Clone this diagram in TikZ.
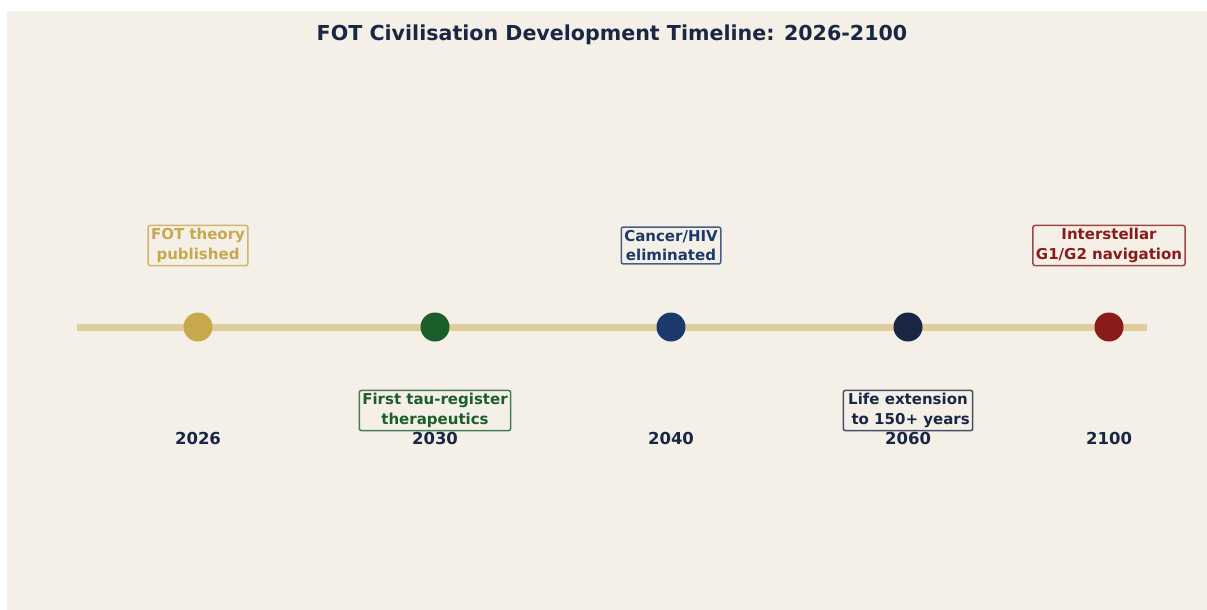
\documentclass[tikz,border=0pt]{standalone}
\usepackage{fontspec}
\setmainfont{DejaVu Sans}
\definecolor{fotBg}{HTML}{F4F0E8}
\definecolor{fotLine}{HTML}{E0CD9E}
\definecolor{fotGold}{HTML}{C9A84C}
\definecolor{fotGreen}{HTML}{1B5E2B}
\definecolor{fotBlue}{HTML}{1B3A6B}
\definecolor{fotNavy}{HTML}{1A2744}
\definecolor{fotRed}{HTML}{8B1A1A}
\usetikzlibrary{positioning}

\tikzset{
  evbox/.style={draw=#1, draw opacity=0.8, text=#1, fill=fotBg, line width=1.5pt, rounded corners=2pt,
    align=center, inner sep=3pt, font=\fontsize{15}{19.5}\selectfont\bfseries},
  evdot/.style={circle, fill=#1, minimum size=29pt, inner sep=0pt},
  yearlab/.style={text=fotNavy, font=\fontsize{16.5}{19}\selectfont\bfseries},
}

\begin{document}
\begin{tikzpicture}[x=1pt, y=-1pt]
  \useasboundingbox (0,0) rectangle (1207,610);
  \fill[fotBg] (7,11) rectangle (1207,610);

  \node[text=fotNavy, font=\fontsize{20.6}{24}\selectfont\bfseries] (title) at (612,35)
    {FOT Civilisation Development Timeline: 2026-2100};

  % axis
  \coordinate (tlstart) at (77,327);
  \coordinate (tlend) at (1147,327);
  \draw[fotLine, line width=7pt] (tlstart) -- (tlend);

  % events
  \node[evdot=fotGold]  (e2026) at (198,327) {};
  \node[evdot=fotGreen] (e2030) at (435,327) {};
  \node[evdot=fotBlue]  (e2040) at (671,327) {};
  \node[evdot=fotNavy]  (e2060) at (908,327) {};
  \node[evdot=fotRed]   (e2100) at (1109,327) {};

  % years
  \node[yearlab] (y2026) at (198,438) {2026};
  \node[yearlab] (y2030) at (435,438) {2030};
  \node[yearlab] (y2040) at (671,438) {2040};
  \node[yearlab] (y2060) at (908,438) {2060};
  \node[yearlab] (y2100) at (1109,438) {2100};

  % labels
  \node[evbox=fotGold]  (l2026) at (198,245.5) {FOT theory\\published};
  \node[evbox=fotGreen] (l2030) at (435,410.5) {First tau-register\\therapeutics};
  \node[evbox=fotBlue]  (l2040) at (671,245.5) {Cancer/HIV\\eliminated};
  \node[evbox=fotNavy]  (l2060) at (908,410.5) {Life extension\\\ to 150+ years};
  \node[evbox=fotRed]   (l2100) at (1109,245.5) {Interstellar\\G1/G2 navigation};
\end{tikzpicture}
\end{document}
